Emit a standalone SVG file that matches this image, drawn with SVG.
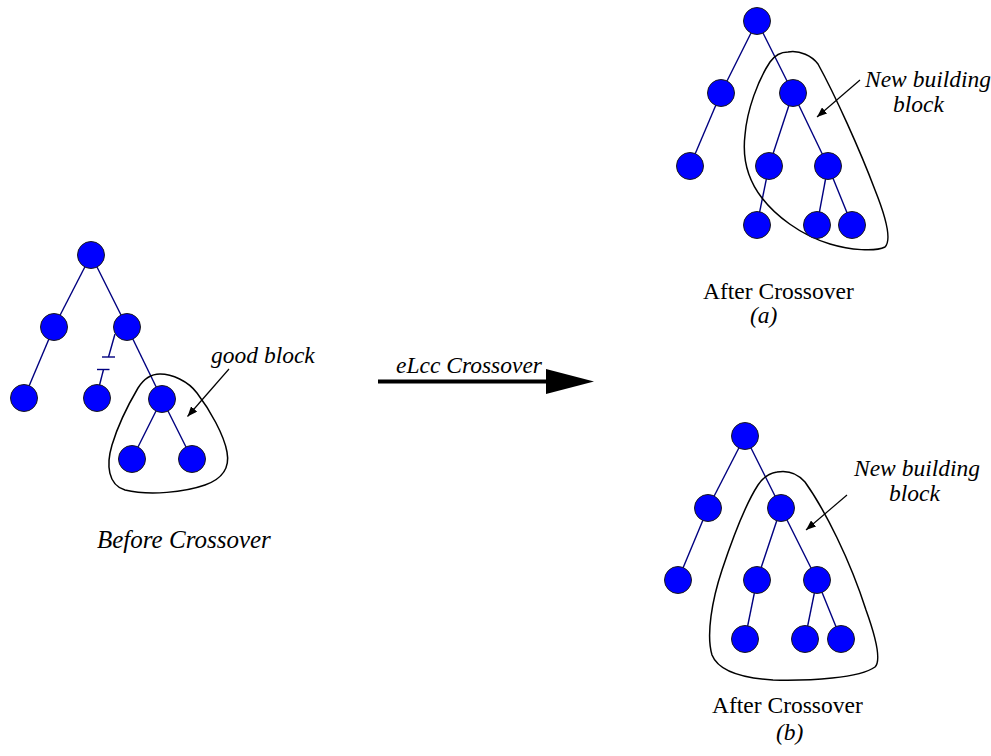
<svg xmlns="http://www.w3.org/2000/svg" width="991" height="756" viewBox="0 0 991 756">
  <defs>
    <style>
      .node { fill: #0000ff; stroke: #1a1a1a; stroke-width: 1; }
      .edge { stroke: #000080; stroke-width: 1.4; fill: none; }
      .blob { stroke: #000; stroke-width: 1.5; fill: none; }
      .pointer { stroke: #000; stroke-width: 1.2; fill: none; }
      .it { font-style: italic; font-size: 23.5px; fill: #000; }
      .rm { font-size: 23.5px; fill: #000; }
    </style>
    <marker id="tip" viewBox="0 0 10 8" refX="10" refY="4" markerWidth="10" markerHeight="8" markerUnits="userSpaceOnUse" orient="auto">
      <path d="M0,0 L10,4 L0,8 Z" fill="#000"/>
    </marker>
  </defs>
  <rect width="991" height="756" fill="#fff"/>

  <!-- tree edges and pointers -->
  <g id="connectors">
    <!-- before crossover -->
    <line class="edge" x1="91" y1="255" x2="54" y2="327"/>
    <line class="edge" x1="91" y1="255" x2="127" y2="327"/>
    <line class="edge" x1="54" y1="327" x2="24" y2="398"/>
    <line class="edge" x1="127" y1="327" x2="162" y2="399"/>
    <line class="edge" x1="162" y1="399" x2="132" y2="459"/>
    <line class="edge" x1="162" y1="399" x2="192" y2="459"/>
    <!-- cut link -->
    <line class="edge" x1="115" y1="334" x2="108.5" y2="357"/>
    <line class="edge" x1="102" y1="357" x2="115" y2="357"/>
    <line class="edge" x1="97" y1="369.5" x2="109.5" y2="369.5"/>
    <line class="edge" x1="103.5" y1="369.5" x2="97" y2="395"/>

    <!-- after crossover (a) -->
    <line class="edge" x1="757" y1="21" x2="721" y2="93"/>
    <line class="edge" x1="757" y1="21" x2="793" y2="93"/>
    <line class="edge" x1="721" y1="93" x2="690" y2="166"/>
    <line class="edge" x1="793" y1="93" x2="769" y2="166"/>
    <line class="edge" x1="793" y1="93" x2="828" y2="166"/>
    <line class="edge" x1="769" y1="166" x2="757" y2="225"/>
    <line class="edge" x1="828" y1="166" x2="817" y2="225"/>
    <line class="edge" x1="828" y1="166" x2="852" y2="225"/>

    <!-- after crossover (b) -->
    <line class="edge" x1="745" y1="436" x2="708" y2="508"/>
    <line class="edge" x1="745" y1="436" x2="781" y2="508"/>
    <line class="edge" x1="708" y1="508" x2="678" y2="580"/>
    <line class="edge" x1="781" y1="508" x2="757" y2="580"/>
    <line class="edge" x1="781" y1="508" x2="817" y2="580"/>
    <line class="edge" x1="757" y1="580" x2="745" y2="639"/>
    <line class="edge" x1="817" y1="580" x2="805" y2="639"/>
    <line class="edge" x1="817" y1="580" x2="841" y2="639"/>

    <!-- label pointers -->
    <line class="pointer" x1="229" y1="369" x2="187.5" y2="416.5" marker-end="url(#tip)"/>
    <line class="pointer" x1="860" y1="80" x2="817" y2="117" marker-end="url(#tip)"/>
    <line class="pointer" x1="847" y1="495" x2="806" y2="530" marker-end="url(#tip)"/>

    <!-- crossover operator arrow -->
    <line x1="378" y1="381.5" x2="548" y2="381.5" stroke="#000" stroke-width="4"/>
    <polygon points="546,369 594,381.5 546,394" fill="#000"/>
  </g>

  <!-- building block outlines -->
  <g id="block-good">
    <path class="blob" d="M160,374 C150,374 143,380 138,388 C128,405 118,425 112,445 C106,465 108,485 125,490 C150,496 185,492 205,485 C222,479 230,468 227,452 C224,435 210,410 197,393 C188,381 172,374 160,374 Z"/>
  </g>
  <g id="block-new-a">
    <path class="blob" d="M788,52 C800,50 812,56 818,64 C835,95 860,150 875,190 C885,215 892,240 885,247 C875,252 850,250 830,244 C800,235 775,215 762,198 C748,180 742,160 745,135 C747,110 758,80 770,62 C775,55 782,52 788,52 Z"/>
  </g>
  <g id="block-new-b">
    <path class="blob" d="M777,472 C788,470 798,474 805,482 C825,510 850,560 866,610 C875,635 882,660 875,667 C860,678 810,681 773,680 C740,678 718,670 712,655 C706,635 712,600 722,570 C732,540 745,505 758,485 C764,476 770,473 777,472 Z"/>
  </g>

  <!-- tree before crossover -->
  <g id="tree-before">
    <circle class="node" cx="91" cy="255" r="13.5"/>
    <circle class="node" cx="54" cy="327" r="13.5"/>
    <circle class="node" cx="127" cy="327" r="13.5"/>
    <circle class="node" cx="24" cy="398" r="13.5"/>
    <circle class="node" cx="97" cy="398" r="13.5"/>
    <circle class="node" cx="162" cy="399" r="13.5"/>
    <circle class="node" cx="132" cy="459" r="13.5"/>
    <circle class="node" cx="192" cy="459" r="13.5"/>
  </g>

  <!-- tree after crossover (a) -->
  <g id="tree-a">
    <circle class="node" cx="757" cy="21" r="13.5"/>
    <circle class="node" cx="721" cy="93" r="13.5"/>
    <circle class="node" cx="793" cy="93" r="13.5"/>
    <circle class="node" cx="690" cy="166" r="13.5"/>
    <circle class="node" cx="769" cy="166" r="13.5"/>
    <circle class="node" cx="828" cy="166" r="13.5"/>
    <circle class="node" cx="757" cy="225" r="13.5"/>
    <circle class="node" cx="817" cy="225" r="13.5"/>
    <circle class="node" cx="852" cy="225" r="13.5"/>
  </g>

  <!-- tree after crossover (b) -->
  <g id="tree-b">
    <circle class="node" cx="745" cy="436" r="13.5"/>
    <circle class="node" cx="708" cy="508" r="13.5"/>
    <circle class="node" cx="781" cy="508" r="13.5"/>
    <circle class="node" cx="678" cy="580" r="13.5"/>
    <circle class="node" cx="757" cy="580" r="13.5"/>
    <circle class="node" cx="817" cy="580" r="13.5"/>
    <circle class="node" cx="745" cy="639" r="13.5"/>
    <circle class="node" cx="805" cy="639" r="13.5"/>
    <circle class="node" cx="841" cy="639" r="13.5"/>
  </g>

  <!-- labels -->
  <g id="labels" font-family="Liberation Serif, Times New Roman, DejaVu Serif, serif">
    <text class="it" x="211" y="363">good block</text>
    <text class="it" x="396" y="373">eLcc Crossover</text>
    <text class="it" x="97" y="548" style="font-size:25px">Before Crossover</text>
    <text class="rm" x="703" y="299">After Crossover</text>
    <text class="it" x="750" y="323">(a)</text>
    <text class="it" x="865" y="87">New building</text>
    <text class="it" x="893" y="112">block</text>
    <text class="it" x="854" y="476">New building</text>
    <text class="it" x="889" y="501">block</text>
    <text class="rm" x="712" y="713">After Crossover</text>
    <text class="it" x="776" y="740">(b)</text>
  </g>
</svg>
